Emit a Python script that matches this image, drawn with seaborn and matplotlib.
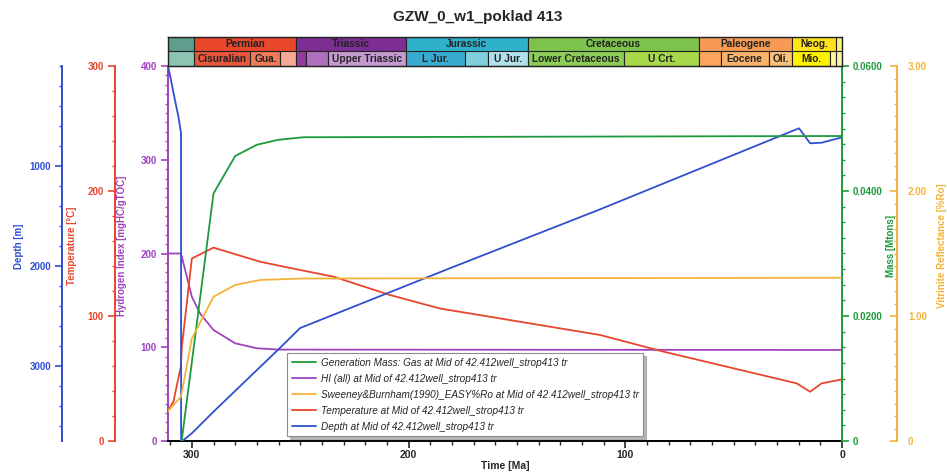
import numpy as np
import pandas as pd
import matplotlib
matplotlib.use("Agg")
import matplotlib.pyplot as plt
from matplotlib.ticker import MultipleLocator, FixedLocator, FuncFormatter
import seaborn as sns

# ---------------- data ----------------
depth_time = [311.0, 310.1, 307.8, 306.2, 305.0, 304.95, 300.0, 290.0, 260.0, 250.0, 181.0, 111.6, 28.6, 19.8, 14.7, 9.4, 0.0]
depth_m = [0, 90, 340, 507, 670, 3760, 3673, 3457, 2833, 2620, 2023, 1433, 700, 623, 773, 767, 713]

temp_time = [311.3, 308.5, 305.1, 304.6, 300.0, 290.0, 268.5, 248.6, 234.7, 208.6, 185.5, 111.6, 82.4, 20.9, 14.7, 9.4, 0.0]
temp_c = [23.4, 31.5, 59.4, 75.5, 146.0, 154.7, 143.4, 136.3, 131.5, 116.8, 106.0, 84.8, 71.5, 46.1, 39.4, 46.1, 49.3]

hi_time = [311.3, 305.0, 300.0, 296.2, 290.0, 280.0, 270.0, 260.0, 0.0]
hi_val = [200.0, 200.0, 154.0, 136.0, 118.4, 104.2, 98.9, 97.5, 97.1]

ro_time = [311.3, 305.0, 300.0, 290.0, 280.0, 268.5, 248.6, 0.0]
ro_val = [0.234, 0.354, 0.82, 1.154, 1.248, 1.288, 1.30, 1.306]

gas_time = [304.7, 300.0, 290.0, 280.0, 270.0, 260.0, 248.5, 0.0]
gas_mass = [0.0, 0.0126, 0.0396, 0.0456, 0.0474, 0.0482, 0.0486, 0.0488]

legend_labels = [
    "Generation Mass: Gas at Mid of 42.412well_strop413 tr",
    "HI (all) at Mid of 42.412well_strop413 tr",
    "Sweeney&Burnham(1990)_EASY%Ro at Mid of 42.412well_strop413 tr",
    "Temperature at Mid of 42.412well_strop413 tr",
    "Depth at Mid of 42.412well_strop413 tr",
]

# geological time scale
period_names = ["", "Permian", "Triassic", "Jurassic", "Cretaceous", "Paleogene", "Neog.", ""]
period_bounds = [311.0, 298.9, 251.9, 201.3, 145.0, 66.0, 23.0, 2.58, 0.0]
period_colors = ["#5f9e8f", "#e8472c", "#7d2e95", "#2fb0cb", "#7cc24c", "#f79a55", "#ffe21a", "#f9f27f"]

epoch_names = ["", "Cisuralian", "Gua.", "", "", "", "Upper Triassic", "L Jur.", "", "U Jur.",
               "Lower Cretaceous", "U Crt.", "", "Eocene", "Oli.", "Mio.", "", ""]
epoch_bounds = [311.0, 298.9, 272.95, 259.1, 251.9, 247.2, 237.0, 201.3, 174.1, 163.5, 145.0,
                100.5, 66.0, 56.0, 33.9, 23.0, 5.33, 2.58, 0.0]
epoch_colors = ["#8cc4b4", "#e8573c", "#f0795a", "#f6a892", "#9538a0", "#b070bf", "#c69ad0",
                "#38acd0", "#7fcfdc", "#b0e0ec", "#8ccd57", "#a6d84a", "#fba55e", "#fbb26a",
                "#fcc07a", "#fff200", "#fff59a", "#fff2ae"]

# ---------------- style ----------------
sns.set_style("white")
plt.rcParams['font.family'] = ['Liberation Sans', 'DejaVu Sans']

C_DEPTH = "#2f4fd0"
C_TEMP = "#e8452c"
C_HI = "#a042bf"
C_GAS = "#1d9a3c"
C_RO = "#f5b23a"

W, H = 947, 472
fig = plt.figure(figsize=(W / 100, H / 100), dpi=100)
L, R = 168 / W, 842 / W
B, T = (H - 441) / H, (H - 66) / H
ax = fig.add_axes([L, B, R - L, T - B])
ax_t = ax.twinx()
ax_d = ax.twinx()
ax_m = ax.twinx()
ax_r = ax.twinx()
pw = 842 - 168

for a in (ax_t, ax_d, ax_m, ax_r):
    for s in a.spines.values():
        s.set_visible(False)
    a.patch.set_visible(False)

lw = 1.3
sns.lineplot(x=gas_time, y=gas_mass, ax=ax_m, color=C_GAS, lw=lw, sort=False, estimator=None)
sns.lineplot(x=hi_time, y=hi_val, ax=ax, color=C_HI, lw=lw, sort=False, estimator=None)
sns.lineplot(x=ro_time, y=ro_val, ax=ax_r, color=C_RO, lw=lw, sort=False, estimator=None)
sns.lineplot(x=temp_time, y=temp_c, ax=ax_t, color=C_TEMP, lw=lw, sort=False, estimator=None)
sns.lineplot(x=depth_time, y=depth_m, ax=ax_d, color=C_DEPTH, lw=lw, sort=False, estimator=None)

handles = [ax_m.lines[-1], ax.lines[-1], ax_r.lines[-1], ax_t.lines[-1], ax_d.lines[-1]]

ax.set_xlim(311, 0)
ax.set_ylim(0, 400)
ax_t.set_ylim(0, 300)
ax_d.set_ylim(3750, 0)
ax_m.set_ylim(0, 0.06)
ax_r.set_ylim(0, 3.0)

fs = 7
# x axis
ax.xaxis.set_major_locator(MultipleLocator(100))
ax.xaxis.set_minor_locator(MultipleLocator(10))
ax.tick_params(axis='x', which='major', direction='out', length=5, width=1.2, labelsize=7.5, pad=1.5, bottom=True)
ax.tick_params(axis='x', which='minor', direction='out', length=3, width=1.0, bottom=True)
for lab in ax.get_xticklabels():
    lab.set_fontweight('bold')
ax.set_xlabel("Time [Ma]", fontsize=7.5, fontweight='bold', labelpad=0.5)
ax.spines['bottom'].set_color('black')
ax.spines['bottom'].set_linewidth(1.4)
ax.spines['top'].set_color('black')
ax.spines['right'].set_visible(False)

def style_axis(a, side, pos, color, major, minor, fmt, label, label_x, tickdir='out', fixed=None):
    sp = a.spines[side]
    sp.set_visible(True)
    sp.set_color(color)
    sp.set_linewidth(1.4)
    sp.set_position(('axes', pos))
    a.yaxis.set_ticks_position(side)
    a.yaxis.set_label_position(side)
    if fixed is not None:
        a.yaxis.set_major_locator(FixedLocator(fixed))
    else:
        a.yaxis.set_major_locator(MultipleLocator(major))
    a.yaxis.set_minor_locator(MultipleLocator(minor))
    a.yaxis.set_major_formatter(FuncFormatter(fmt))
    a.tick_params(axis='y', which='major', direction=tickdir, length=5, width=1.2, color=color,
                  labelcolor=color, labelsize=fs, pad=3)
    a.tick_params(axis='y', which='minor', direction=tickdir, length=2.5, width=1.0, color=color)
    for lab in a.get_yticklabels():
        lab.set_fontweight('bold')
    a.set_ylabel(label, color=color, fontsize=fs, fontweight='bold', rotation=90)
    a.yaxis.set_label_coords(label_x, 0.52)

int_fmt = lambda v, p: f"{v:.0f}"
# left-side labels: coordinate is the right edge of the rotated text
style_axis(ax, 'left', 0.0, C_HI, 100, 10, int_fmt, "Hydrogen Index [mgHC/gTOC]", (127 - 168) / pw)
style_axis(ax_t, 'left', -53 / pw, C_TEMP, 100, 20, int_fmt, "Temperature [°C]", (77 - 168) / pw)
style_axis(ax_d, 'left', -106 / pw, C_DEPTH, 1000, 200, int_fmt, "Depth [m]", (24 - 168) / pw,
           fixed=[1000, 2000, 3000])
# right-side labels: coordinate is the left edge of the rotated text
style_axis(ax_m, 'right', 1.0, C_GAS, 0.02, 0.0025,
           lambda v, p: "0" if abs(v) < 1e-9 else f"{v:.4f}", "Mass [Mtons]", (886 - 168) / pw)
style_axis(ax_r, 'right', 1 + 55 / pw, C_RO, 1.0, 0.1,
           lambda v, p: "0" if abs(v) < 1e-9 else f"{v:.2f}", "Vitrinite Reflectance [%Ro]",
           (937 - 168) / pw, tickdir='in')
ax_r.tick_params(axis='y', which='major', pad=8)

for a in (ax, ax_t, ax_d, ax_m, ax_r):
    a.grid(False)

# legend
leg = ax_r.legend(handles, legend_labels, loc='lower left',
                  bbox_to_anchor=((287 - 168) / pw, (441 - 436) / 375),
                  prop={'size': 7.2, 'style': 'italic'}, frameon=True, fancybox=False,
                  edgecolor='0.55', borderaxespad=0, handlelength=2.4, handletextpad=0.5,
                  labelspacing=0.6, borderpad=0.45,
                  shadow={'color': '0.6', 'alpha': 0.7})
leg.get_frame().set_linewidth(0.8)

# geological time scale bar
ts = fig.add_axes([L, T, R - L, 29 / H])
ts.set_xlim(311, 0)
ts.set_ylim(0, 2)
p_start = np.array(period_bounds[:-1])
p_end = np.array(period_bounds[1:])
ts.barh([1.5] * len(period_names), p_end - p_start, left=p_start, height=1.0,
        color=period_colors, edgecolor='#222222', linewidth=0.8, align='center')
e_start = np.array(epoch_bounds[:-1])
e_end = np.array(epoch_bounds[1:])
ts.barh([0.5] * len(epoch_names), e_end - e_start, left=e_start, height=1.0,
        color=epoch_colors, edgecolor='#222222', linewidth=0.8, align='center')
for name, s, e in zip(period_names, p_start, p_end):
    if name:
        ts.text((s + e) / 2, 1.5, name, ha='center', va='center', fontsize=7.3,
                fontweight='bold', color='#222222')
for name, s, e in zip(epoch_names, e_start, e_end):
    if name:
        ts.text((s + e) / 2, 0.5, name, ha='center', va='center', fontsize=7.3,
                fontweight='bold', color='#222222')
ts.set_xticks([])
ts.set_yticks([])
for s in ts.spines.values():
    s.set_color('#222222')
    s.set_linewidth(1.0)

fig.text(478 / W, 1 - 17 / H, "GZW_0_w1_poklad 413", ha='center', va='center',
         fontsize=11, fontweight='bold')

fig.savefig("out.png", dpi=100)
